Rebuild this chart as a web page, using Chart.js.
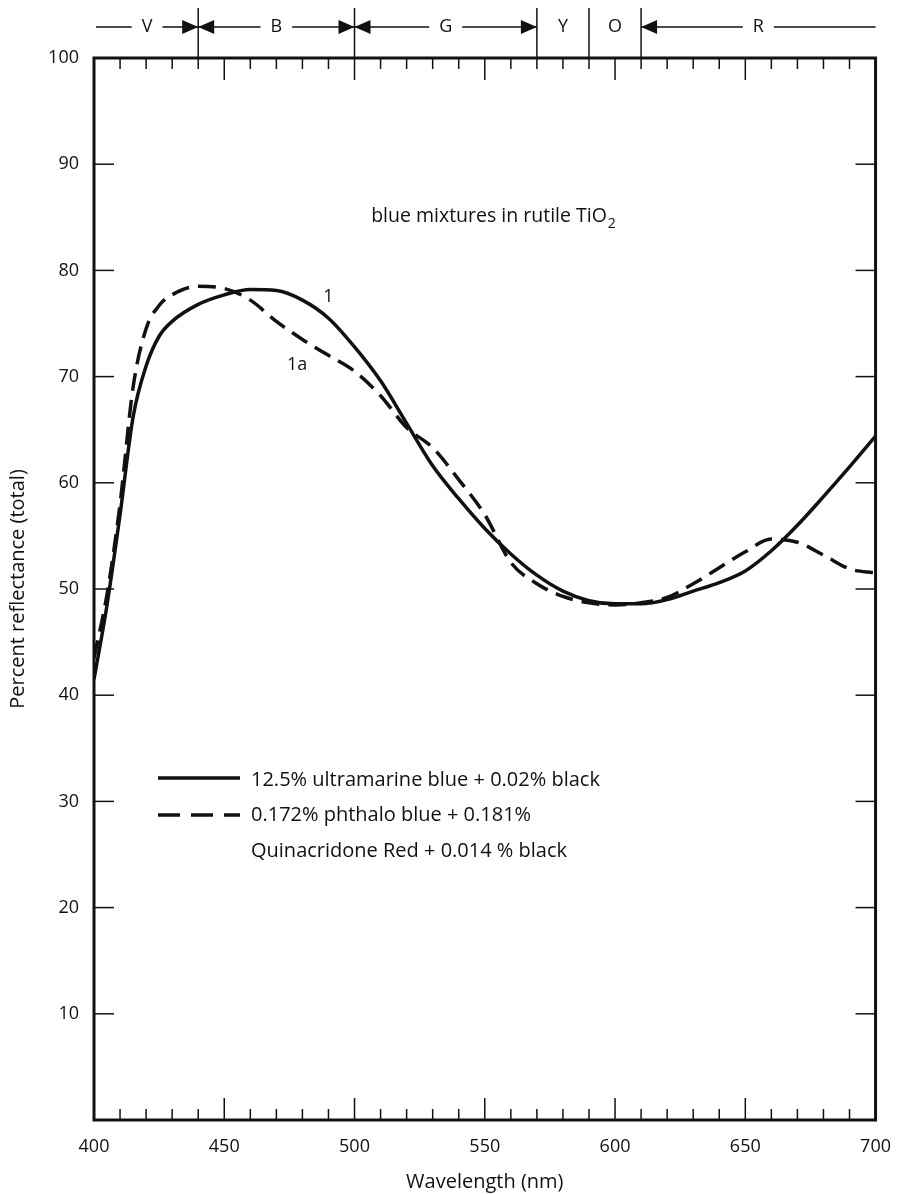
<!DOCTYPE html>
<html>
<head>
<meta charset="utf-8">
<script src="https://cdn.jsdelivr.net/npm/chart.js@4.4.1/dist/chart.umd.min.js"></script>
<style>
  html, body { margin: 0; padding: 0; background: #fff; }
  #wrap { width: 907px; height: 1194px; position: relative; }
</style>
</head>
<body>
<div id="wrap"><canvas id="chart"></canvas></div>
<script>
// wavelengths (nm) shared by both curves
const wavelengths = [400, 405, 410, 415, 420, 425, 430, 440, 450, 460, 470, 480, 490, 500,
  510, 520, 530, 540, 550, 560, 570, 580, 590, 600, 610, 620, 630, 640, 650, 660, 670, 680, 690, 700];

// curve 1: 12.5% ultramarine blue + 0.02% black
const ultramarine = [41.5, 48.5, 57, 66.2, 71, 73.8, 75.2, 76.8, 77.7, 78.2, 78.1, 77.2, 75.5, 72.8,
  69.6, 65.6, 61.6, 58.5, 55.7, 53.3, 51.3, 49.8, 48.9, 48.6, 48.6, 49, 49.8, 50.6, 51.7, 53.6, 56, 58.7, 61.5, 64.4];

// curve 1a: phthalo blue + quinacridone red + black
const phthalo = [43.5, 49.5, 58, 69, 74.5, 76.7, 77.7, 78.5, 78.3, 77.2, 75.2, 73.5, 72, 70.5,
  68.2, 65.2, 63.3, 60.3, 57, 52.5, 50.5, 49.3, 48.7, 48.5, 48.7, 49.2, 50.5, 52, 53.5, 54.7, 54.4, 53.2, 51.9, 51.5];

const bandNames = ["V", "B", "G", "Y", "O", "R"];
const bandEdges = [400, 440, 500, 570, 590, 610, 700];
// arrowheads at [left end, right end] of each band
const bandArrows = [[0, 1], [1, 1], [1, 1], [0, 0], [0, 0], [1, 0]];

const legendLines = [
  "12.5% ultramarine blue + 0.02% black",
  "0.172% phthalo blue + 0.181%",
  "Quinacridone Red + 0.014 % black"
];

const ink = "#111";
const fontFamily = "'Open Sans', 'Noto Sans', sans-serif";
const dash = [18, 9];

function pts(vals) {
  return wavelengths.map((w, i) => ({ x: w, y: vals[i] }));
}

function seg(ctx, x1, y1, x2, y2) {
  ctx.beginPath();
  ctx.moveTo(x1, y1);
  ctx.lineTo(x2, y2);
  ctx.stroke();
}

function arrowHead(ctx, tipX, y, dir) {
  // dir = 1 points right, -1 points left
  ctx.beginPath();
  ctx.moveTo(tipX, y);
  ctx.lineTo(tipX - dir * 16, y - 7);
  ctx.lineTo(tipX - dir * 16, y + 7);
  ctx.closePath();
  ctx.fill();
}

const decor = {
  id: "decor",
  afterDraw(chart) {
    const { ctx, chartArea: a, scales: { x, y } } = chart;
    ctx.save();
    ctx.strokeStyle = ink;
    ctx.fillStyle = ink;

    // inward tick marks
    ctx.lineWidth = 1.5;
    for (let w = 410; w < 700; w += 10) {
      const px = x.getPixelForValue(w);
      const len = w % 50 === 0 ? 22 : 11;
      seg(ctx, px, a.top, px, a.top + len);
      seg(ctx, px, a.bottom, px, a.bottom - len);
    }
    for (let v = 10; v < 100; v += 10) {
      const py = y.getPixelForValue(v);
      seg(ctx, a.left, py, a.left + 20, py);
      seg(ctx, a.right, py, a.right - 20, py);
    }

    // frame
    ctx.lineWidth = 3;
    ctx.strokeRect(a.left, a.top, a.right - a.left, a.bottom - a.top);

    // colour bands above the plot
    const by = 27;
    ctx.lineWidth = 1.5;
    for (let i = 1; i < bandEdges.length - 1; i++) {
      const px = x.getPixelForValue(bandEdges[i]);
      seg(ctx, px, 8, px, a.top);
    }
    ctx.font = "18px " + fontFamily;
    ctx.textAlign = "center";
    ctx.textBaseline = "middle";
    bandNames.forEach((name, i) => {
      const x0 = x.getPixelForValue(bandEdges[i]) + (i === 0 ? 2 : 0);
      const x1 = x.getPixelForValue(bandEdges[i + 1]);
      const cx = (x0 + x1) / 2;
      ctx.fillText(name, cx, by);
      const [la, ra] = bandArrows[i];
      if (la || ra) {
        const half = ctx.measureText(name).width / 2 + 10;
        seg(ctx, x0, by, cx - half, by);
        seg(ctx, cx + half, by, x1, by);
        if (la) arrowHead(ctx, x0, by, -1);
        if (ra) arrowHead(ctx, x1, by, 1);
      }
    });

    // title with subscript
    ctx.textAlign = "left";
    ctx.textBaseline = "alphabetic";
    ctx.font = "19.5px " + fontFamily;
    const t = "blue mixtures in rutile TiO";
    const tw = ctx.measureText(t).width;
    ctx.font = "14px " + fontFamily;
    const sw = ctx.measureText("2").width;
    const tx = 493 - (tw + sw) / 2;
    ctx.font = "19.5px " + fontFamily;
    ctx.fillText(t, tx, 222);
    ctx.font = "14px " + fontFamily;
    ctx.fillText("2", tx + tw + 1, 228);

    // curve labels
    ctx.font = "18px " + fontFamily;
    ctx.textAlign = "center";
    ctx.textBaseline = "middle";
    ctx.fillText("1", x.getPixelForValue(490), y.getPixelForValue(77.5));
    ctx.fillText("1a", x.getPixelForValue(478), y.getPixelForValue(71.1));

    // legend
    ctx.textAlign = "left";
    ctx.textBaseline = "alphabetic";
    ctx.font = "20px " + fontFamily;
    const lx0 = 158, lx1 = 240, tx0 = 251;
    const lines = [778, 815];
    const bases = [786, 821, 857];
    ctx.lineWidth = 3.5;
    seg(ctx, lx0, lines[0], lx1, lines[0]);
    ctx.setLineDash([22, 11]);
    seg(ctx, lx0, lines[1], lx1, lines[1]);
    ctx.setLineDash([]);
    legendLines.forEach((txt, i) => ctx.fillText(txt, tx0, bases[i]));

    ctx.restore();
  }
};

const ctx = document.getElementById("chart").getContext("2d");
const chart = new Chart(ctx, {
  type: "line",
  data: {
    datasets: [
      {
        label: "1",
        data: pts(ultramarine),
        borderColor: ink,
        borderWidth: 3.5,
        pointRadius: 0,
        cubicInterpolationMode: "monotone",
        fill: false
      },
      {
        label: "1a",
        data: pts(phthalo),
        borderColor: ink,
        borderWidth: 3.5,
        borderDash: dash,
        pointRadius: 0,
        cubicInterpolationMode: "monotone",
        fill: false
      }
    ]
  },
  options: {
    responsive: true,
    maintainAspectRatio: false,
    animation: false,
    layout: { padding: { top: 58, right: 20, left: 0, bottom: 0 } },
    plugins: { legend: { display: false }, tooltip: { enabled: false } },
    scales: {
      x: {
        type: "linear",
        min: 400,
        max: 700,
        grid: { display: false, drawTicks: false },
        border: { display: false },
        ticks: { stepSize: 50, padding: 16, color: ink, font: { family: fontFamily, size: 18 } },
        title: { display: true, text: "Wavelength (nm)", color: ink, padding: { top: 0, bottom: 0 }, font: { family: fontFamily, size: 20 } },
        afterFit(scale) { scale.height = 74; }
      },
      y: {
        min: 0,
        max: 100,
        grid: { display: false, drawTicks: false },
        border: { display: false },
        ticks: {
          stepSize: 10,
          padding: 15,
          color: ink,
          font: { family: fontFamily, size: 18 },
          callback: (v) => (v === 0 ? "" : v)
        },
        title: { display: true, text: "Percent reflectance (total)", color: ink, padding: { top: 6, bottom: 0 }, font: { family: fontFamily, size: 20 } },
        afterFit(scale) { scale.width = 94; }
      }
    }
  },
  plugins: [decor]
});
</script>
</body>
</html>
